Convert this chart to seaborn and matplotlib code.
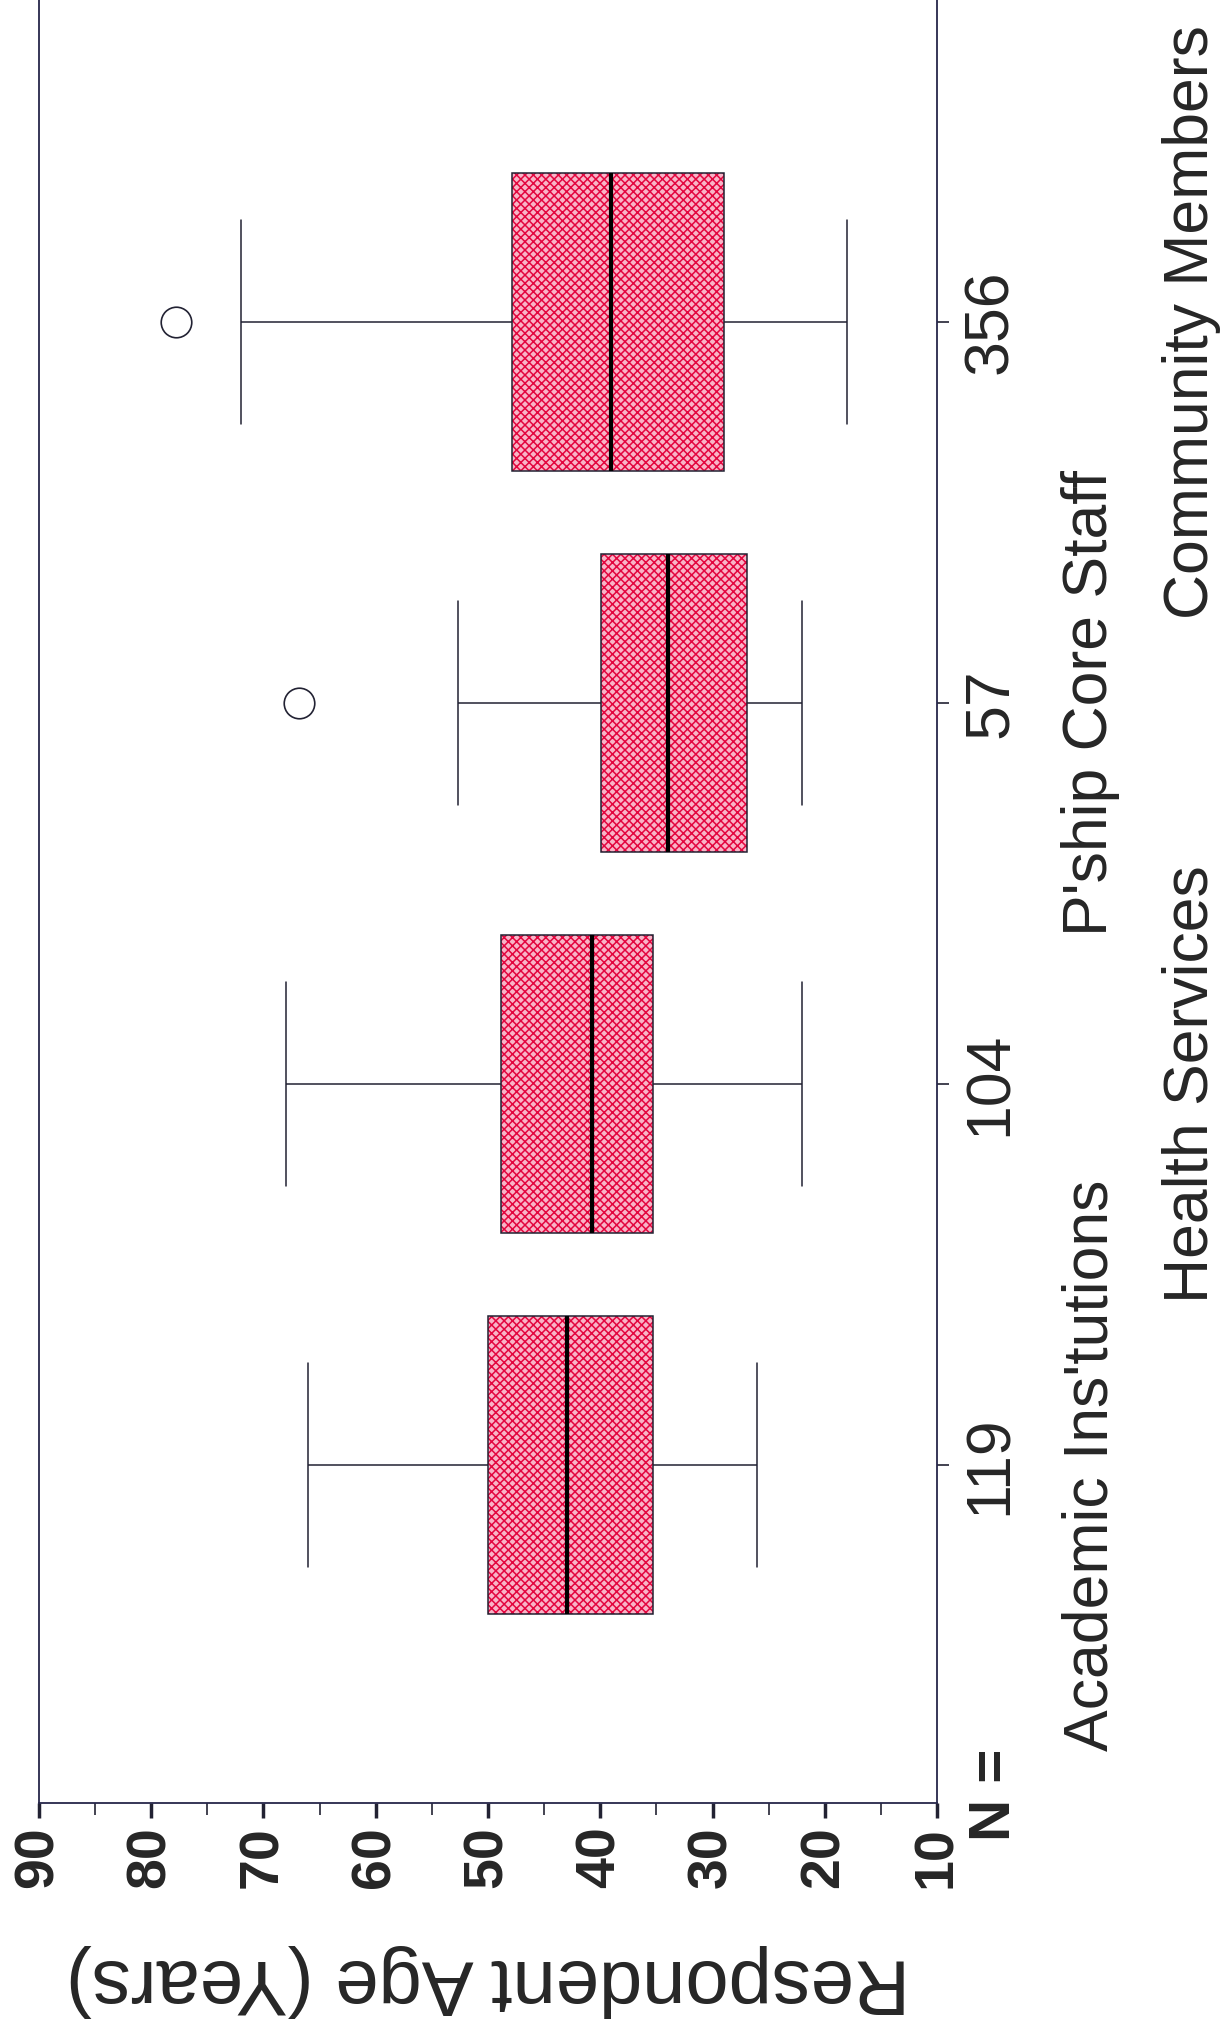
import pandas as pd
import matplotlib
matplotlib.use("Agg")
import matplotlib.pyplot as plt
import matplotlib.transforms as mtransforms
from matplotlib.patches import PathPatch
from matplotlib.ticker import MultipleLocator
import seaborn as sns

# groups, bottom to top in the (rotated) picture
groups = ["Academic Ins'tutions", "Health Services", "P'ship Core Staff", "Community Members"]
n_counts = ["119", "104", "57", "356"]

# ages: whisker ends, quartiles, median, outliers
ages_academic = [26, 35.3, 43, 50, 66]
ages_health = [22, 35.3, 40.7, 48.8, 68]
ages_pship = [22, 26.9, 26.9, 34, 34, 39.9, 39.9, 52.7, 66.8]
ages_community = [18, 29, 29, 39, 39, 47.9, 47.9, 72, 77.8]

value_ticks = [90, 80, 70, 60, 50, 40, 30, 20, 10]

df = pd.concat([
    pd.DataFrame({"group": groups[0], "age": ages_academic}),
    pd.DataFrame({"group": groups[1], "age": ages_health}),
    pd.DataFrame({"group": groups[2], "age": ages_pship}),
    pd.DataFrame({"group": groups[3], "age": ages_community}),
])

sns.set_style("white")
plt.rcParams["font.family"] = ["Liberation Sans", "DejaVu Sans"]
plt.rcParams["hatch.linewidth"] = 1.1

W, H = 1220, 2038
fig = plt.figure(figsize=(W / 100, H / 100), dpi=100)
ax = fig.add_axes([39 / W, (H - 1803) / H, (937 - 39) / W, (1803 + 16) / H])

line_col = "#222233"
sns.boxplot(data=df, x="age", y="group", order=groups, orient="h", ax=ax,
            width=0.78, color="#f38aa8", linecolor=line_col, linewidth=1.1,
            fliersize=22, capwidths=0.535,
            medianprops=dict(color="black", linewidth=3),
            flierprops=dict(marker="o", markerfacecolor="none",
                            markeredgecolor=line_col, markeredgewidth=1.2))

# checkered pink fill under each box outline
for box in list(ax.patches):
    fill = PathPatch(box.get_path(), transform=box.get_transform(),
                     facecolor="#f9b4c7", edgecolor="#e3063f", linewidth=0,
                     hatch="xxxx", zorder=box.get_zorder() - 0.1)
    ax.add_patch(fill)
    box.set_facecolor("none")

ax.set_xlim(90, 10)
ax.set_ylim(-0.887, 3.887)

ax.set_xticks(value_ticks)
ax.set_xticklabels([str(v) for v in value_ticks], rotation=90,
                   fontsize=40, fontweight="bold")
ax.xaxis.set_minor_locator(MultipleLocator(5))
ax.tick_params(axis="x", which="major", direction="out", length=11, width=2.5,
               pad=6, color=line_col, bottom=True)
ax.tick_params(axis="x", which="minor", direction="out", length=8.5, width=1.2,
               color=line_col, bottom=True)

ax.yaxis.tick_right()
ax.set_yticks([0, 1, 2, 3])
ax.set_yticklabels(n_counts)
ax.tick_params(axis="y", which="major", direction="out", length=8.6, width=1.2,
               pad=41.8, color=line_col, labelsize=45)
plt.setp(ax.get_yticklabels(), rotation=90, rotation_mode="anchor",
         ha="center", va="baseline")
ax.set_ylabel("")

for side in ["left", "right", "bottom"]:
    ax.spines[side].set_color("#26264a")
    ax.spines[side].set_linewidth(1.3)
ax.spines["top"].set_visible(False)

ax.set_xlabel("Respondent Age (Years)", fontsize=56)
lab = ax.xaxis.label
lab.set_rotation(180)
lab.set_rotation_mode("anchor")
lab.set_va("baseline")
lab.set_ha("center")
ax.xaxis.set_label_coords(0.5, (1803 - 1960) / 1819)

# category names in two staggered rows
trans = mtransforms.blended_transform_factory(fig.transFigure, ax.transData)
row_x = [1107 / W, 1208 / W, 1107 / W, 1208 / W]
for i, name in enumerate(groups):
    ax.text(row_x[i], i, name, transform=trans, rotation=90,
            rotation_mode="anchor", ha="center", va="baseline", fontsize=45)

fig.text(1010 / W, 1 - 1795 / H, "N =", rotation=90, rotation_mode="anchor",
         ha="center", va="baseline", fontsize=42, fontweight="bold")

fig.savefig("out.png", dpi=100)
